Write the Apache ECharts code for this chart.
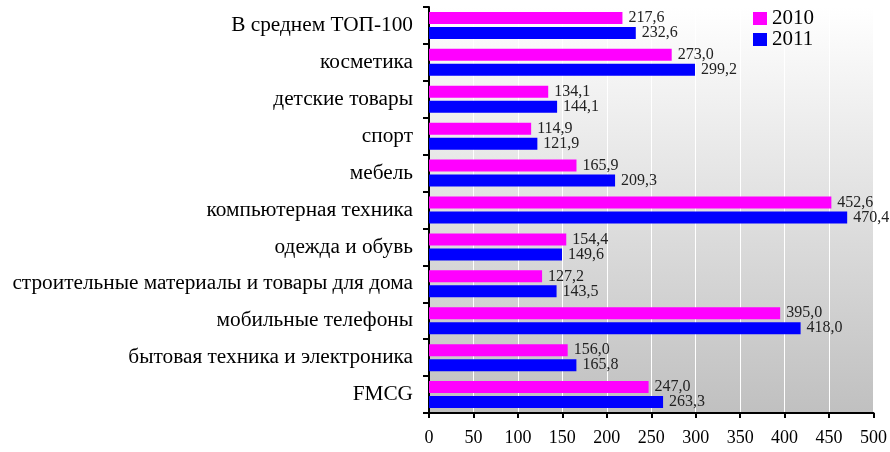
<!DOCTYPE html>
<html><head><meta charset="utf-8">
<script src="https://cdn.jsdelivr.net/npm/echarts@6/dist/echarts.min.js"></script>
<style>html,body{margin:0;padding:0;background:#fff}#c{width:890px;height:452px}</style>
</head><body><div id="c"></div>
<script>
const categories = ["В среднем ТОП-100","косметика","детские товары","спорт","мебель","компьютерная техника","одежда и обувь","строительные материалы и товары для дома","мобильные телефоны","бытовая техника и электроника","FMCG"];
const values2010 = [217.6,273.0,134.1,114.9,165.9,452.6,154.4,127.2,395.0,156.0,247.0];
const values2011 = [232.6,299.2,144.1,121.9,209.3,470.4,149.6,143.5,418.0,165.8,263.3];
const xTicks = [0,50,100,150,200,250,300,350,400,450,500];
const font = "'Liberation Serif','Times New Roman',serif";
const chart = echarts.init(document.getElementById('c'));
const lbl = {show:true, position:'right', distance:6, fontFamily:font, fontSize:16, color:'#222',
  formatter:p=>p.value.toFixed(1).replace('.',',')};
chart.setOption({
  animation:false,
  textStyle:{fontFamily:font},
  legend:{data:['2010','2011'], orient:'vertical', left:748, top:3, itemWidth:14, itemHeight:13, itemGap:0,
    icon:'rect', textStyle:{fontFamily:font, fontSize:21, color:'#000', lineHeight:20}},
  grid:{left:429, right:16, top:7, bottom:39, show:true, borderWidth:0,
    backgroundColor:new echarts.graphic.LinearGradient(0,0,0,1,[{offset:0,color:'#ffffff'},{offset:1,color:'#c0c0c0'}])},
  xAxis:{type:'value', min:0, max:500, interval:50,
    axisLine:{show:true, lineStyle:{color:'#000', width:2}},
    axisTick:{show:true, length:5, lineStyle:{color:'#000', width:2}},
    axisLabel:{fontFamily:font, fontSize:18, color:'#000', margin:16, formatter:v=>xTicks.includes(v)?String(v):''},
    splitLine:{show:true, lineStyle:{color:'#ffffff', width:1}}},
  yAxis:{type:'category', data:categories, inverse:true,
    axisLine:{show:true, lineStyle:{color:'#000', width:2}},
    axisTick:{show:true, length:6, lineStyle:{color:'#000', width:2}},
    axisLabel:{fontFamily:font, fontSize:21.3, color:'#000', margin:16}},
  series:[
    {name:'2010', type:'bar', data:values2010, itemStyle:{color:'#ff00ff'}, barWidth:12, barGap:'25%', label:lbl},
    {name:'2011', type:'bar', data:values2011, itemStyle:{color:'#0000ff'}, barWidth:12, barGap:'25%', label:lbl}
  ]
});
</script></body></html>
